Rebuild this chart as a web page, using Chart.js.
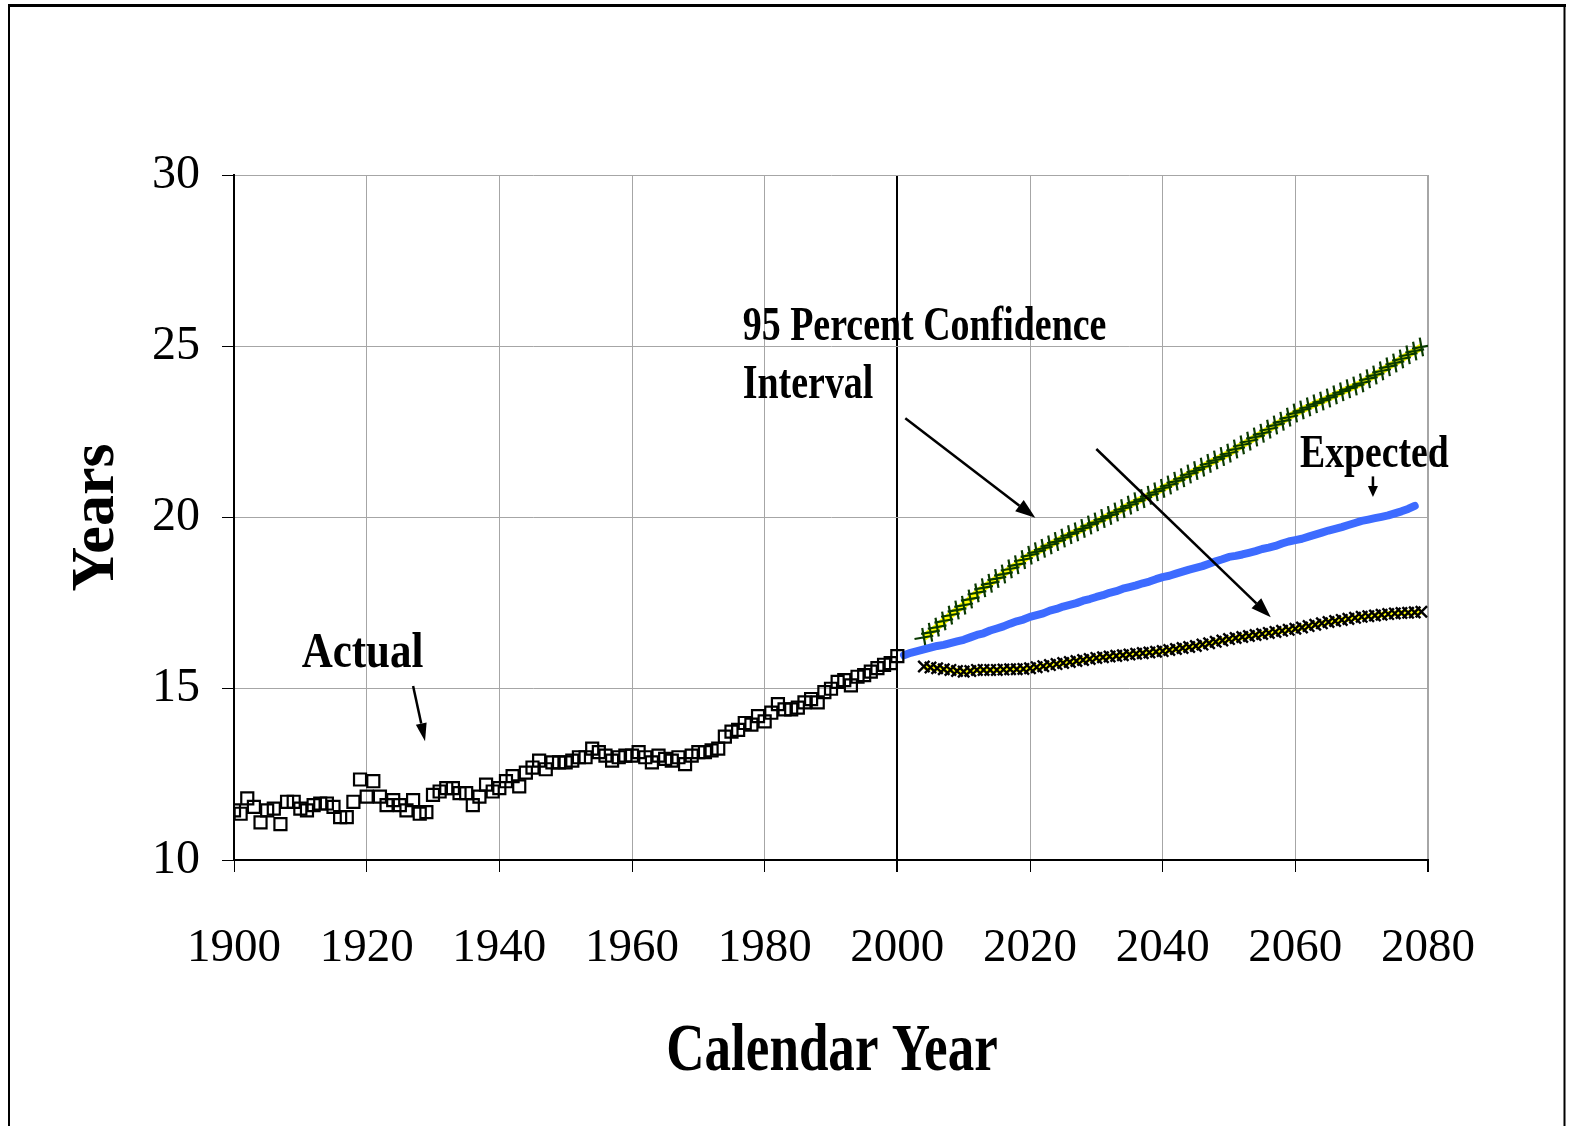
<!DOCTYPE html>
<html>
<head>
<meta charset="utf-8">
<script src="https://cdn.jsdelivr.net/npm/chart.js@4/dist/chart.umd.min.js"></script>
<style>
  html, body { margin: 0; padding: 0; background: #ffffff; }
  #wrap { position: relative; width: 1571px; height: 1126px; }
</style>
</head>
<body>
<div id="wrap"><canvas id="c" width="1571" height="1126"></canvas></div>
<script>
// ---------------- DATA ----------------
const actualStartYear = 1900;
const actualValues = [
  11.45, 11.35, 11.8, 11.55, 11.1, 11.45, 11.5, 11.05, 11.7, 11.7,
  11.5, 11.45, 11.6, 11.65, 11.65, 11.55, 11.25, 11.25, 11.7, 12.35,
  11.85, 12.3, 11.85, 11.6, 11.75, 11.6, 11.45, 11.75, 11.35, 11.4,
  11.9, 12.0, 12.1, 12.1, 11.95, 11.95, 11.6, 11.85, 12.2, 12.0,
  12.1, 12.3, 12.45, 12.15, 12.55, 12.7, 12.9, 12.65, 12.85, 12.85,
  12.85, 12.9, 13.0, 13.0, 13.25, 13.15, 13.05, 12.9, 13.0, 13.05,
  13.05, 13.15, 13.0, 12.85, 13.05, 12.95, 12.9, 13.0, 12.8, 13.05,
  13.15, 13.15, 13.2, 13.25, 13.6, 13.75, 13.8, 14.0, 13.95, 14.2,
  14.05, 14.3, 14.55, 14.4, 14.4, 14.45, 14.6, 14.7, 14.6, 14.9,
  15.0, 15.2, 15.25, 15.1, 15.35, 15.4, 15.5, 15.6, 15.7, 15.75,
  15.95
];

const expectedStartYear = 2001;
const expectedValues = [
  15.98, 16.05, 16.1, 16.15, 16.2, 16.25, 16.28, 16.33, 16.38, 16.43,
  16.5, 16.57, 16.62, 16.7, 16.76, 16.82, 16.9, 16.97, 17.02, 17.1,
  17.15, 17.2, 17.28, 17.33, 17.4, 17.45, 17.5, 17.57, 17.62, 17.68,
  17.73, 17.8, 17.85, 17.92, 17.97, 18.02, 18.08, 18.13, 18.2, 18.26,
  18.3, 18.36, 18.42, 18.48, 18.53, 18.58, 18.65, 18.72, 18.78, 18.85,
  18.88, 18.92, 18.97, 19.02, 19.08, 19.12, 19.17, 19.24, 19.3, 19.34,
  19.38, 19.44, 19.5, 19.56, 19.62, 19.67, 19.72, 19.78, 19.84, 19.9,
  19.94, 19.98, 20.02, 20.06, 20.12, 20.18, 20.25, 20.34
];

const ciStartYear = 2004;
const upperValues = [
  16.5, 16.65, 16.8, 16.98, 17.15, 17.3, 17.44, 17.62, 17.8, 17.95,
  18.08, 18.22, 18.35, 18.5, 18.62, 18.77, 18.9, 19.0, 19.1, 19.2,
  19.3, 19.4, 19.5, 19.58, 19.68, 19.78, 19.87, 19.97, 20.06, 20.16,
  20.26, 20.36, 20.46, 20.55, 20.65, 20.75, 20.85, 20.95, 21.06, 21.16,
  21.27, 21.37, 21.47, 21.58, 21.68, 21.78, 21.88, 22.0, 22.12, 22.23,
  22.35, 22.46, 22.58, 22.7, 22.81, 22.93, 23.05, 23.14, 23.23, 23.32,
  23.4, 23.49, 23.58, 23.67, 23.76, 23.84, 23.93, 24.05, 24.16, 24.28,
  24.4, 24.51, 24.63, 24.75, 24.86, 24.98
];
const lowerValues = [
  15.65, 15.62, 15.6, 15.57, 15.55, 15.52, 15.5, 15.52, 15.55, 15.55,
  15.55, 15.55, 15.56, 15.57, 15.57, 15.58, 15.6, 15.63, 15.66, 15.69,
  15.72, 15.75, 15.78, 15.81, 15.84, 15.87, 15.9, 15.92, 15.94, 15.96,
  15.98, 16.0, 16.02, 16.04, 16.06, 16.08, 16.1, 16.13, 16.16, 16.19,
  16.22, 16.25, 16.29, 16.33, 16.37, 16.41, 16.45, 16.48, 16.51, 16.54,
  16.57, 16.6, 16.63, 16.66, 16.69, 16.72, 16.75, 16.79, 16.83, 16.87,
  16.91, 16.95, 16.98, 17.01, 17.04, 17.07, 17.1, 17.12, 17.14, 17.16,
  17.18, 17.2, 17.21, 17.22, 17.23, 17.25
];

const xTicks = [1900, 1920, 1940, 1960, 1980, 2000, 2020, 2040, 2060, 2080];
const yTicks = [10, 15, 20, 25, 30];

const xTitle = 'Calendar Year';
const yTitle = 'Years';
const labelActual = 'Actual';
const labelCI1 = '95 Percent Confidence';
const labelCI2 = 'Interval';
const labelExpected = 'Expected';

// ---------------- HELPERS ----------------
function toPoints(start, vals) { return vals.map((v, i) => ({ x: start + i, y: v })); }
const SERIF = "'Liberation Serif', 'Times New Roman', serif";

function drawCompressed(ctx, text, x, y, size, sx, align) {
  ctx.save();
  ctx.font = 'bold ' + size + 'px ' + SERIF;
  ctx.fillStyle = '#000';
  ctx.textBaseline = 'alphabetic';
  const w = ctx.measureText(text).width * sx;
  let left = x;
  if (align === 'center') left = x - w / 2;
  ctx.translate(left, y);
  ctx.scale(sx, 1);
  ctx.fillText(text, 0, 0);
  ctx.restore();
}

function drawArrow(ctx, x1, y1, x2, y2, headLen, headW, lw) {
  const ang = Math.atan2(y2 - y1, x2 - x1);
  const bx = x2 - headLen * Math.cos(ang);
  const by = y2 - headLen * Math.sin(ang);
  ctx.save();
  ctx.strokeStyle = '#000';
  ctx.fillStyle = '#000';
  ctx.lineWidth = lw;
  ctx.beginPath();
  ctx.moveTo(x1, y1);
  ctx.lineTo(bx, by);
  ctx.stroke();
  ctx.beginPath();
  ctx.moveTo(x2, y2);
  ctx.lineTo(bx + headW / 2 * Math.sin(ang), by - headW / 2 * Math.cos(ang));
  ctx.lineTo(bx - headW / 2 * Math.sin(ang), by + headW / 2 * Math.cos(ang));
  ctx.closePath();
  ctx.fill();
  ctx.restore();
}

// annotation anchors in data units
const arrows = [
  { from: [1927.0, 15.08], to: [1928.8, 13.47], head: 18, w: 11, lw: 2.5 },
  { from: [2001.2, 22.90], to: [2020.8, 19.99], head: 20, w: 14, lw: 2.5 },
  { from: [2030.0, 22.00], to: [2056.3, 17.09], head: 20, w: 14, lw: 2.5 },
  { from: [2071.7, 21.20], to: [2071.7, 20.60], head: 11, w: 10, lw: 2.5 }
];
const texts = [
  { t: labelActual, at: [1910.2, 15.64], size: 50, sx: 0.86 },
  { t: labelCI1, at: [1976.7, 25.18], size: 48, sx: 0.79 },
  { t: labelCI2, at: [1976.7, 23.49], size: 48, sx: 0.79 },
  { t: labelExpected, at: [2060.7, 21.47], size: 46, sx: 0.82 }
];

const framePlugin = {
  id: 'frame',
  beforeDraw(chart) {
    const ctx = chart.ctx;
    ctx.save();
    ctx.fillStyle = '#fff';
    ctx.fillRect(0, 0, chart.width, chart.height);
    ctx.strokeStyle = '#000';
    ctx.lineWidth = 3;
    ctx.beginPath();
    ctx.moveTo(8, 5.5); ctx.lineTo(1566, 5.5);
    ctx.stroke();
    ctx.lineWidth = 2;
    ctx.beginPath();
    ctx.moveTo(9, 5); ctx.lineTo(9, 1126);
    ctx.moveTo(1564.5, 5); ctx.lineTo(1564.5, 1126);
    ctx.stroke();
    ctx.restore();
  },
  afterDatasetsDraw(chart) {
    const ctx = chart.ctx;
    const xs = chart.scales.x, ys = chart.scales.y;
    arrows.forEach(a => {
      drawArrow(ctx, xs.getPixelForValue(a.from[0]), ys.getPixelForValue(a.from[1]),
                xs.getPixelForValue(a.to[0]), ys.getPixelForValue(a.to[1]), a.head, a.w, a.lw);
    });
    texts.forEach(t => {
      drawCompressed(ctx, t.t, xs.getPixelForValue(t.at[0]), ys.getPixelForValue(t.at[1]), t.size, t.sx, 'left');
    });
    const ca = chart.chartArea;
    drawCompressed(ctx, xTitle, (ca.left + ca.right) / 2 + 1, 1070, 68, 0.78, 'center');
  }
};

const ctx = document.getElementById('c').getContext('2d');
new Chart(ctx, {
  type: 'scatter',
  data: {
    datasets: [
      {
        label: 'Actual',
        data: toPoints(actualStartYear, actualValues),
        showLine: false,
        pointStyle: 'rect',
        pointRadius: 8.5,
        pointBorderWidth: 2.2,
        pointBorderColor: '#000',
        pointBackgroundColor: 'rgba(0,0,0,0)',
        order: 0
      },
      {
        label: 'Upper 95%',
        data: toPoints(ciStartYear, upperValues),
        showLine: true,
        borderColor: '#ffff00',
        borderWidth: 7,
        pointStyle: 'cross',
        pointRadius: 9.5,
        pointRotation: -10,
        pointBorderWidth: 2.2,
        pointBorderColor: '#0a3a00',
        pointBackgroundColor: '#0a3a00',
        order: 2
      },
      {
        label: 'Lower 95%',
        data: toPoints(ciStartYear, lowerValues),
        showLine: true,
        borderColor: '#ffff00',
        borderWidth: 6,
        pointStyle: 'crossRot',
        pointRadius: 8,
        pointBorderWidth: 2.4,
        pointBorderColor: '#000',
        pointBackgroundColor: '#000',
        order: 3
      },
      {
        label: 'Expected',
        data: toPoints(expectedStartYear, expectedValues),
        showLine: true,
        borderColor: '#3d6bff',
        borderWidth: 8,
        borderCapStyle: 'round',
        borderJoinStyle: 'round',
        pointRadius: 0,
        order: 1
      }
    ]
  },
  options: {
    responsive: false,
    animation: false,
    devicePixelRatio: 1,
    layout: { padding: { left: 0, top: 175, right: 143, bottom: 0 } },
    plugins: { legend: { display: false }, tooltip: { enabled: false }, title: { display: false } },
    scales: {
      x: {
        type: 'linear',
        min: 1900, max: 2080,
        afterBuildTicks(scale) { scale.ticks = xTicks.map(v => ({ value: v })); },
        afterFit(scale) { scale.height = 266; },
        ticks: {
          font: { family: SERIF, size: 47 },
          color: '#000',
          padding: 48,
          maxRotation: 0,
          autoSkip: false,
          callback: (v) => String(v)
        },
        grid: {
          color: (c) => (c.tick && c.tick.value === 2000) ? '#000' : '#a6a6a6',
          lineWidth: (c) => (c.tick && (c.tick.value === 2000 || c.tick.value === 2080)) ? 2 : 1,
          tickColor: '#000',
          tickLength: 12,
          drawTicks: true
        },
        border: { color: '#000', width: 2 },
        title: { display: false }
      },
      y: {
        type: 'linear',
        min: 10, max: 30,
        afterBuildTicks(scale) { scale.ticks = yTicks.map(v => ({ value: v })); },
        afterFit(scale) { scale.width = 234; },
        ticks: {
          font: { family: SERIF, size: 48 },
          color: '#000',
          padding: 22,
          callback: (v) => String(v)
        },
        grid: {
          color: '#a6a6a6',
          lineWidth: 1,
          tickColor: '#000',
          tickLength: 12,
          drawTicks: true
        },
        border: { color: '#000', width: 2 },
        title: {
          display: true,
          text: yTitle,
          color: '#000',
          font: { family: SERIF, size: 62, weight: 'bold' },
          padding: { top: 60, bottom: 0 }
        }
      }
    }
  },
  plugins: [framePlugin]
});
</script>
</body>
</html>
